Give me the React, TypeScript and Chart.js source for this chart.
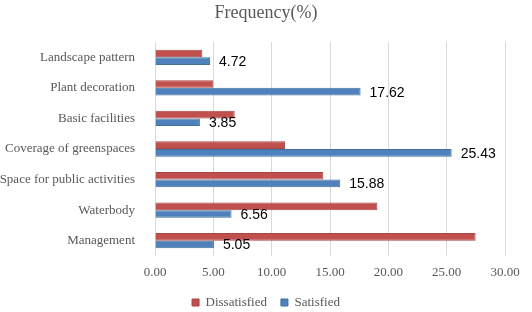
import React, { useEffect, useRef } from "react";
import { Chart, registerables } from "chart.js";

Chart.register(...registerables);

const categories = [
  "Landscape pattern",
  "Plant decoration",
  "Basic facilities",
  "Coverage of greenspaces",
  "Space for public activities",
  "Waterbody",
  "Management",
];
const dissatisfied = [4.06, 5.0, 6.83, 11.14, 14.43, 19.06, 27.48];
const satisfied = [4.72, 17.62, 3.85, 25.43, 15.88, 6.56, 5.05];
const xTicks = [0, 5, 10, 15, 20, 25, 30];

const serif = "'Liberation Serif', 'Times New Roman', serif";
const gray = "#595959";

const labelPlugin = {
  id: "satLabels",
  afterDatasetsDraw(chart: any) {
    const ctx = chart.ctx;
    const meta = chart.getDatasetMeta(1);
    ctx.save();
    ctx.font = "14px 'Liberation Sans', Arial, sans-serif";
    ctx.fillStyle = "#000000";
    ctx.textAlign = "left";
    ctx.textBaseline = "middle";
    meta.data.forEach((el: any, i: number) => {
      ctx.fillText(satisfied[i].toFixed(2), el.x + 9, el.y + 1);
    });
    ctx.restore();
  },
};

export default function App() {
  const ref = useRef<HTMLCanvasElement | null>(null);
  useEffect(() => {
    if (!ref.current) return;
    const chart = new Chart(ref.current, {
      type: "bar",
      data: {
        labels: categories,
        datasets: [
          {
            label: "Dissatisfied",
            data: dissatisfied,
            backgroundColor: "#C0504D",
            borderColor: "#A94542",
            borderWidth: 1,
            categoryPercentage: 0.5,
            barPercentage: 1,
          },
          {
            label: "Satisfied",
            data: satisfied,
            backgroundColor: "#4F81BD",
            borderColor: "#41719C",
            borderWidth: 1,
            categoryPercentage: 0.5,
            barPercentage: 1,
          },
        ],
      },
      options: {
        indexAxis: "y",
        responsive: false,
        animation: false,
        layout: { padding: 0 },
        scales: {
          x: {
            min: 0,
            max: 30,
            afterBuildTicks: (scale: any) => {
              scale.ticks = xTicks.map((v) => ({ value: v }));
            },
            afterFit: (scale: any) => {
              scale.height = 26;
              scale.paddingRight = 27;
            },
            ticks: {
              padding: 9,
              color: gray,
              font: { family: serif, size: 13 },
              callback: (v: any) => Number(v).toFixed(2),
            },
            grid: { color: "#D9D9D9", drawTicks: false, lineWidth: 1 },
            border: { display: false },
          },
          y: {
            afterFit: (scale: any) => {
              scale.width = 155;
            },
            ticks: {
              padding: 12,
              color: gray,
              font: { family: serif, size: 13 },
            },
            grid: { display: false },
            border: { display: false },
          },
        },
        plugins: {
          title: {
            display: true,
            text: "Frequency(%)",
            color: gray,
            font: { family: serif, size: 18, weight: "normal" },
            padding: { top: 2, bottom: 18.4 },
          },
          legend: {
            position: "bottom",
            maxHeight: 30,
            labels: {
              boxWidth: 7,
              boxHeight: 7,
              padding: 14,
              color: gray,
              font: { family: serif, size: 13 },
            },
          },
          tooltip: { enabled: false },
        },
      },
      plugins: [labelPlugin],
    } as any);
    return () => chart.destroy();
  }, []);
  return (
    <div style={{ position: "absolute", left: 0, top: 0, width: 532, height: 312, background: "#fff" }}>
      <canvas ref={ref} width={532} height={312} />
    </div>
  );
}
